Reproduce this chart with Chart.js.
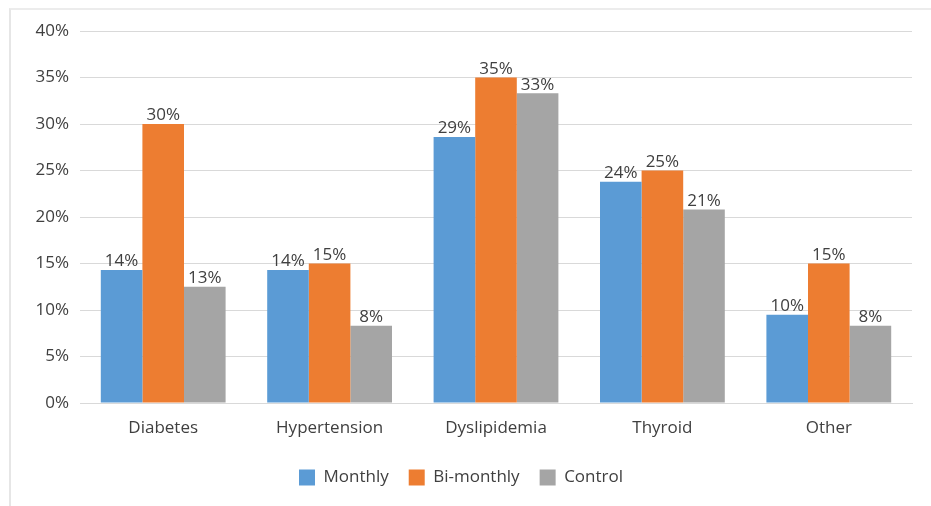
<!DOCTYPE html>
<html lang="en">
<head>
    <meta charset="UTF-8">
    <script src="https://cdn.jsdelivr.net/npm/chart.js"></script>
    <title>Chart</title>
    <style>
        body { margin: 0; background: #fff; }
        .moldura { position: absolute; left: 9px; top: 8px; width: 922px; height: 498px;
            border-left: 2px solid #e6e6e6; border-top: 2px solid #ececec; box-sizing: border-box; }
        .caixa { position: absolute; left: 0; top: 0; width: 931px; height: 506px; }
    </style>
</head>
<body>
    <div class="moldura"></div>
    <div class="caixa"><canvas id="grafico"></canvas></div>

<script>
    var categorias = ['Diabetes', 'Hypertension', 'Dyslipidemia', 'Thyroid', 'Other']
    var mensal = [14.3, 14.3, 28.6, 23.8, 9.5]
    var bimensal = [30, 15, 35, 25, 15]
    var controle = [12.5, 8.3, 33.3, 20.8, 8.3]
    var ticksY = [0, 5, 10, 15, 20, 25, 30, 35, 40]

    var fonte = "'Open Sans', 'Noto Sans', sans-serif"

    // rotulos em cima das barras
    var rotulos = {
        id: 'rotulos',
        afterDatasetsDraw: function (chart) {
            var ctx = chart.ctx
            ctx.save()
            ctx.font = '17px ' + fonte
            ctx.fillStyle = '#404040'
            ctx.textAlign = 'center'
            ctx.textBaseline = 'bottom'
            chart.data.datasets.forEach(function (ds, i) {
                chart.getDatasetMeta(i).data.forEach(function (barra, j) {
                    ctx.fillText(Math.round(ds.data[j]) + '%', barra.x, barra.y)
                })
            })
            ctx.restore()
        }
    }

    new Chart(grafico, {
        type: 'bar',
        data: {
            labels: categorias,
            datasets: [
                { label: 'Monthly', data: mensal, backgroundColor: '#5b9bd5' },
                { label: 'Bi-monthly', data: bimensal, backgroundColor: '#ed7d31' },
                { label: 'Control', data: controle, backgroundColor: '#a5a5a5' }
            ]
        },
        options: {
            responsive: true,
            maintainAspectRatio: false,
            animation: false,
            datasets: { bar: { categoryPercentage: 0.75, barPercentage: 1.0 } },
            layout: { padding: { left: 10, right: 19, top: 31, bottom: 10 } },
            plugins: {
                tooltip: { enabled: false },
                legend: {
                    position: 'bottom',
                    labels: {
                        font: { family: fonte, size: 17 },
                        color: '#404040',
                        boxWidth: 16,
                        boxHeight: 16,
                        padding: 20
                    }
                }
            },
            scales: {
                x: {
                    grid: { display: false, drawTicks: false },
                    border: { color: '#d9d9d9', width: 1 },
                    ticks: { font: { family: fonte, size: 17 }, color: '#404040', padding: 15 },
                    afterFit: function (s) { s.height = 46 }
                },
                y: {
                    min: 0,
                    max: 40,
                    afterBuildTicks: function (s) { s.ticks = ticksY.map(function (v) { return { value: v } }) },
                    grid: { color: '#d9d9d9', drawTicks: false },
                    border: { display: false },
                    ticks: {
                        font: { family: fonte, size: 17 },
                        color: '#404040',
                        padding: 11,
                        callback: function (v) { return v + '%' }
                    },
                    afterFit: function (s) { s.width = 70 }
                }
            }
        },
        plugins: [rotulos]
    });
</script>
</body>
</html>
